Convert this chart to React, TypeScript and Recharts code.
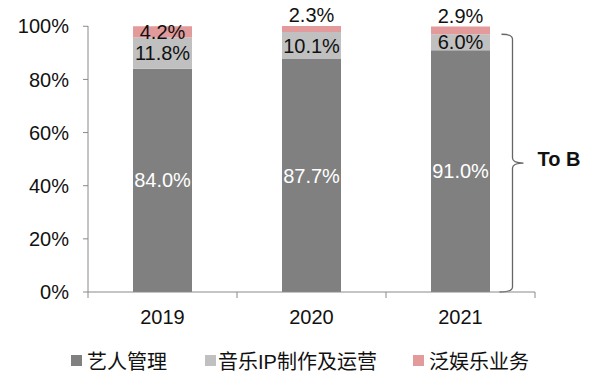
import { BarChart, Bar, XAxis, YAxis, Legend, LabelList, ReferenceLine } from "recharts";

const years = ["2019", "2020", "2021"];
const artistMgmt = [84.0, 87.7, 91.0];
const musicIp = [11.8, 10.1, 6.0];
const panEnt = [4.2, 2.3, 2.9];
const yTicks = [0, 20, 40, 60, 80, 100];
const seriesNames = ["艺人管理", "音乐IP制作及运营", "泛娱乐业务"];
const braceLabel = "To B";

const colors = ["#808080", "#c0c0c0", "#e29a9a"];
const font = '"Liberation Sans", Arial, "Noto Sans CJK SC", sans-serif';
const axisColor = "#8a8a8a";

const data = years.map((year, i) => ({
  year,
  artist: artistMgmt[i],
  music: musicIp[i],
  pan: panEnt[i],
}));

const pct = (v: any) => `${Number(v).toFixed(1)}%`;

function XTick(props: any) {
  const { x, y, payload, index, width, visibleTicksCount } = props;
  const band = width / visibleTicksCount;
  return (
    <g>
      <line x1={x - band / 2} y1={y} x2={x - band / 2} y2={y + 6} stroke={axisColor} />
      {index === visibleTicksCount - 1 && (
        <line x1={x + band / 2} y1={y} x2={x + band / 2} y2={y + 6} stroke={axisColor} />
      )}
      <text x={x} y={y + 32} textAnchor="middle" fontSize={20} fill="#111" fontFamily={font}>
        {payload.value}
      </text>
    </g>
  );
}

function PanLabel(props: any) {
  const { x, y, width, height, value } = props;
  const cx = x + width / 2;
  // small segments get their label above the bar
  if (height < 10) {
    return (
      <text x={cx} y={y - 4} textAnchor="middle" fontSize={20} fill="#111" fontFamily={font}>
        {pct(value)}
      </text>
    );
  }
  return (
    <text x={cx} y={y + height / 2 + 7} textAnchor="middle" fontSize={20} fill="#111" fontFamily={font}>
      {pct(value)}
    </text>
  );
}

function Brace(props: any) {
  const { x1, y1, y2 } = props;
  const top = Math.min(y1, y2);
  const bottom = Math.max(y1, y2);
  const bx = x1 + 52;
  const mid = (top + bottom) / 2;
  const d = [
    `M ${bx - 11} ${top}`,
    `Q ${bx} ${top} ${bx} ${top + 5}`,
    `L ${bx} ${mid - 5}`,
    `Q ${bx} ${mid} ${bx + 11} ${mid}`,
    `Q ${bx} ${mid} ${bx} ${mid + 5}`,
    `L ${bx} ${bottom - 5}`,
    `Q ${bx} ${bottom} ${bx - 13} ${bottom}`,
  ].join(" ");
  return (
    <g>
      <path d={d} fill="none" stroke="#666" strokeWidth={1.3} />
      <text x={bx + 25} y={mid + 3} fontSize={20} fontWeight="bold" fill="#111" fontFamily={font}>
        {braceLabel}
      </text>
    </g>
  );
}

function LegendContent() {
  const lefts = [71, 205, 413];
  return (
    <div style={{ position: "relative", height: 36, fontFamily: font, fontSize: 20, color: "#111" }}>
      {seriesNames.map((name, i) => (
        <div
          key={name}
          style={{ position: "absolute", left: lefts[i], top: 6, display: "flex", alignItems: "center", whiteSpace: "nowrap" }}
        >
          <span style={{ display: "inline-block", width: 11, height: 11, background: colors[i], marginRight: i === 1 ? 2 : 5 }} />
          <span>{name}</span>
        </div>
      ))}
    </div>
  );
}

export default function App() {
  return (
    <div style={{ position: "absolute", left: 0, top: 0, background: "#fff" }}>
      <BarChart
        width={600}
        height={376}
        data={data}
        margin={{ top: 26, right: 65, bottom: 0, left: 0 }}
        barSize={59}
      >
        <XAxis
          dataKey="year"
          stroke={axisColor}
          tickSize={0}
          tickMargin={0}
          height={48}
          tick={<XTick />}
        />
        <YAxis
          domain={[0, 100]}
          ticks={yTicks}
          width={88}
          stroke={axisColor}
          tickSize={5}
          tickMargin={14}
          tickFormatter={(v: number) => `${v}%`}
          tick={{ fontSize: 20, fill: "#111", fontFamily: font }}
        />
        <Legend
          verticalAlign="bottom"
          height={36}
          wrapperStyle={{ left: 0, top: 340, width: 600 }}
          content={<LegendContent />}
        />
        <Bar dataKey="artist" stackId="a" fill={colors[0]} isAnimationActive={false}>
          <LabelList dataKey="artist" position="center" formatter={pct} fill="#fff" fontSize={20} fontFamily={font} />
        </Bar>
        <Bar dataKey="music" stackId="a" fill={colors[1]} isAnimationActive={false}>
          <LabelList dataKey="music" position="center" formatter={pct} fill="#111" fontSize={20} fontFamily={font} />
        </Bar>
        <Bar dataKey="pan" stackId="a" fill={colors[2]} isAnimationActive={false}>
          <LabelList dataKey="pan" content={<PanLabel />} />
        </Bar>
        <ReferenceLine
          segment={[
            { x: years[2], y: 0 },
            { x: years[2], y: artistMgmt[2] + musicIp[2] },
          ]}
          shape={<Brace />}
        />
      </BarChart>
    </div>
  );
}
